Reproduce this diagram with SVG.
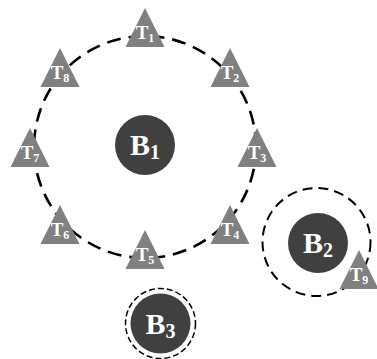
<svg xmlns="http://www.w3.org/2000/svg" width="377" height="359" viewBox="0 0 377 359">
<style>
.ring{fill:none;stroke:#000}
.big{stroke-width:2.6;stroke-dasharray:14 8}
.mid{stroke-width:2;stroke-dasharray:10 6}
.small{stroke-width:1.5;stroke-dasharray:6 3}
.tri{fill:#808080}
.bs{fill:#404040}
.tl{font-family:"Liberation Serif","Times New Roman",serif;font-weight:bold;fill:#fff;text-anchor:middle;font-size:19px}
.tl tspan{font-size:12px}
.bl{font-family:"Liberation Serif","Times New Roman",serif;font-weight:bold;fill:#fff;text-anchor:middle;font-size:30px}
.bl tspan{font-size:20px}
</style>
<g id="connectors">
<circle class="ring big" cx="145" cy="147" r="111"/>
<circle class="ring mid" cx="316.5" cy="242" r="54"/>
<circle class="ring small" cx="160.5" cy="323.5" r="35"/>
</g>
<g id="B1"><circle class="bs" cx="145" cy="145" r="30"/><text class="bl" x="145" y="155">B<tspan dy="4">1</tspan></text></g>
<g id="B2"><circle class="bs" cx="318" cy="243" r="30"/><text class="bl" x="318" y="253">B<tspan dy="4">2</tspan></text></g>
<g id="B3"><circle class="bs" cx="160.5" cy="323.5" r="30"/><text class="bl" x="160.5" y="334">B<tspan dy="4">3</tspan></text></g>
<g id="T1"><path class="tri" d="M145 8 L164.5 47 L125.5 47 Z"/><text class="tl" x="145" y="39">T<tspan dy="3">1</tspan></text></g>
<g id="T2"><path class="tri" d="M230 48 L249.5 87 L210.5 87 Z"/><text class="tl" x="230" y="79">T<tspan dy="3">2</tspan></text></g>
<g id="T3"><path class="tri" d="M257 128 L276.5 167 L237.5 167 Z"/><text class="tl" x="257" y="159">T<tspan dy="3">3</tspan></text></g>
<g id="T4"><path class="tri" d="M230 205 L249.5 244 L210.5 244 Z"/><text class="tl" x="230" y="236">T<tspan dy="3">4</tspan></text></g>
<g id="T5"><path class="tri" d="M145 230 L164.5 269 L125.5 269 Z"/><text class="tl" x="145" y="261">T<tspan dy="3">5</tspan></text></g>
<g id="T6"><path class="tri" d="M60 205 L79.5 244 L40.5 244 Z"/><text class="tl" x="60" y="236">T<tspan dy="3">6</tspan></text></g>
<g id="T7"><path class="tri" d="M30 128 L49.5 167 L10.5 167 Z"/><text class="tl" x="30" y="159">T<tspan dy="3">7</tspan></text></g>
<g id="T8"><path class="tri" d="M60 48 L79.5 87 L40.5 87 Z"/><text class="tl" x="60" y="79">T<tspan dy="3">8</tspan></text></g>
<g id="T9"><path class="tri" d="M359 250 L378.5 289 L339.5 289 Z"/><text class="tl" x="359" y="281">T<tspan dy="3">9</tspan></text></g>
</svg>
